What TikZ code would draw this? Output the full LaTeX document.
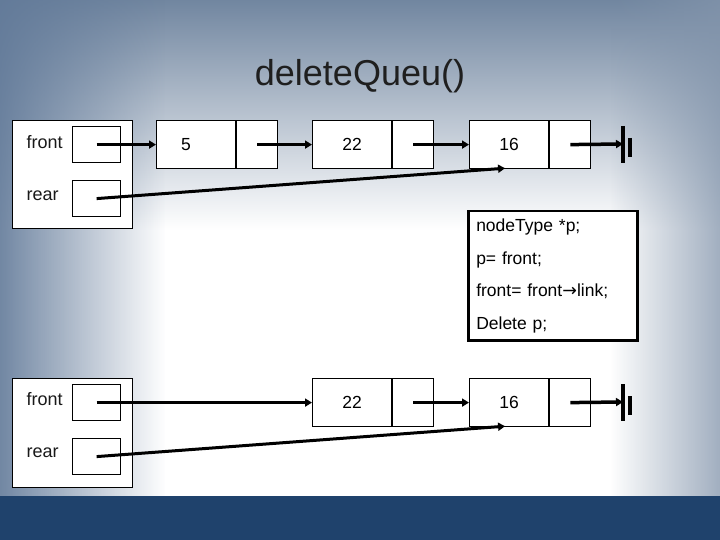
\documentclass[tikz,border=0pt]{standalone}
\usepackage{fontspec}
\setmainfont{Liberation Sans}
\newfontfamily\arrowfont{DejaVu Sans}
\usetikzlibrary{arrows.meta,calc,fadings}
\definecolor{slideblue}{HTML}{1F426C}
\definecolor{edgeblue}{HTML}{627A99}
\definecolor{sideblue}{HTML}{8294AB}
\definecolor{topblue}{HTML}{7186A0}
\definecolor{mistblue}{HTML}{CDD5DF}
\tikzfading[name=fade right, left color=transparent!0, right color=transparent!100]
\tikzfading[name=fade left, left color=transparent!100, right color=transparent!0]
\tikzset{
    list frame/.style={
        draw=black,
        line width=1.4pt,
        fill=white,
        anchor=north west,
        inner sep=0pt,
        minimum width=120pt,
        minimum height=108pt
    },
    list ptr/.style={list frame, line width=1.2pt, minimum width=48pt, minimum height=36pt},
    list data/.style={
        list frame,
        line width=1.2pt,
        minimum width=79pt,
        minimum height=48pt,
        font=\fontsize{17.5}{20}\selectfont
    },
    list link/.style={list data, minimum width=41pt},
    list label/.style={font=\fontsize{18}{20}\selectfont, text=black!90, anchor=west},
    list title/.style={font=\fontsize{36}{40}\selectfont, text=black!88},
    list code/.style={
        draw=black,
        line width=2.5pt,
        fill=white,
        anchor=north west,
        minimum width=169pt,
        minimum height=129pt,
        inner xsep=8pt,
        text width=153pt,
        align=left,
        font=\fontsize{17.5}{32.5}\selectfont
    },
    list arrow/.style={-{Triangle[length=7pt,width=8pt]}, line width=3.5pt, draw=black},
    rear arrow/.style={list arrow, line width=3pt},
    null bar/.style={line width=3.2pt, draw=black}
}

\begin{document}
\begin{tikzpicture}[x=1pt, y=-1pt]
\useasboundingbox (0,0) rectangle (720,540);
% slide background
\fill[white] (0,0) rectangle (720,540);
\fill[top color=topblue, middle color=mistblue, bottom color=white] (0,0) rectangle (720,230);
\fill[edgeblue, opacity=0.9, path fading=fade right] (0,0) rectangle (165,496);
\fill[sideblue, opacity=0.75, path fading=fade left] (610,0) rectangle (720,496);
\fill[slideblue] (0,496) rectangle (720,540);

\node[list title] (title) at (360,76) {deleteQueu()};

% Before: queue with 5, 22, 16
\node[list frame] (q1) at (12,120) {};
\node[list ptr] (f1) at (72,126) {};
\node[list ptr] (r1) at (72,180) {};
\node[list label] at (23,142) {front};
\node[list label] at (23,196) {rear};
\node[list data] (d5) at (156,120) {\makebox[30pt][l]{5}};
\node[list link] (p5) at (d5.north east) {};
\node[list data] (d22) at (312,120) {22};
\node[list link] (p22) at (d22.north east) {};
\node[list data] (d16) at (469,120) {16};
\node[list link] (p16) at (d16.north east) {};
\coordinate (nul1) at (623,144);
\draw[list arrow] (f1.center) -- (d5.west);
\draw[list arrow] (p5.center) -- (d22.west);
\draw[list arrow] (p22.center) -- (d16.west);
\draw[list arrow] (p16.center) -- (nul1);
\draw[rear arrow] (r1.center) -- ($(d16.south)+(-4,-1)$);
\draw[null bar] ($(nul1)+(0,-18)$) -- ($(nul1)+(0,19)$);
\draw[null bar] ($(nul1)+(7,-6)$) -- ($(nul1)+(7,13)$);

% Code
\node[list code] (code) at (467,210) {nodeType *p;\\p= front;\\front= front{\arrowfont →}link;\\Delete p;};

% After: queue with 22, 16
\node[list frame, minimum height=109pt] (q2) at (12,378) {};
\node[list ptr] (f2) at (72,384) {};
\node[list ptr] (r2) at (72,438) {};
\node[list label] at (23,399) {front};
\node[list label] at (23,453) {rear};
\node[list data] (e22) at (312,378) {22};
\node[list link] (s22) at (e22.north east) {};
\node[list data] (e16) at (469,378) {16};
\node[list link] (s16) at (e16.north east) {};
\coordinate (nul2) at (623,402);
\draw[list arrow] (f2.center) -- (e22.west);
\draw[list arrow] (s22.center) -- (e16.west);
\draw[list arrow] (s16.center) -- (nul2);
\draw[rear arrow] (r2.center) -- ($(e16.south)+(-4,-1)$);
\draw[null bar] ($(nul2)+(0,-18)$) -- ($(nul2)+(0,19)$);
\draw[null bar] ($(nul2)+(7,-6)$) -- ($(nul2)+(7,13)$);
\end{tikzpicture}
\end{document}
